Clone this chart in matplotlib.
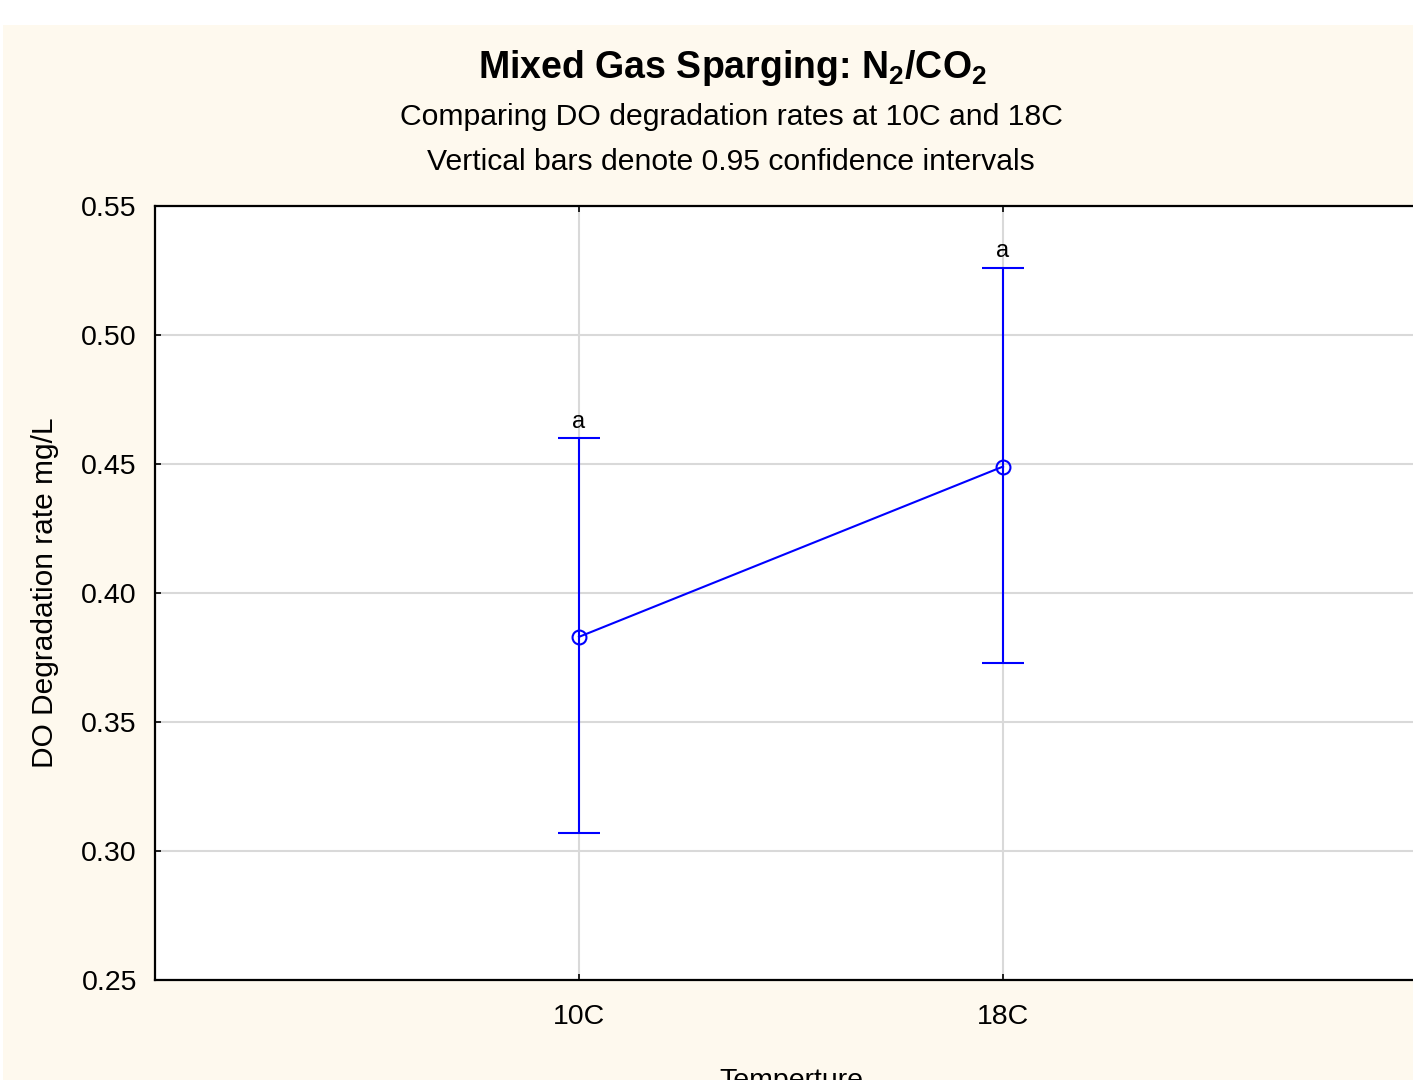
import matplotlib
matplotlib.use("Agg")
import matplotlib.pyplot as plt
from matplotlib.patches import Rectangle

plt.rcParams['font.family'] = ['Liberation Sans', 'DejaVu Sans']
plt.rcParams['mathtext.default'] = 'regular'

categories = ["10C", "18C"]
means = [0.383, 0.449]
upper = [0.460, 0.526]
lower = [0.307, 0.373]
letters = ["a", "a"]
yticks = [0.25, 0.30, 0.35, 0.40, 0.45, 0.50, 0.55]

W, H = 1413, 1080
fig = plt.figure(figsize=(W / 100, H / 100), dpi=100, facecolor="white")
cream = "#fef9ee"
fig.patches.append(Rectangle((3 / W, 0), 1, 1 - 25 / H, transform=fig.transFigure,
                             facecolor=cream, edgecolor="none", zorder=-10))

ax_left, ax_right = 155, 1427
ax_top, ax_bot = 206, 980
ax = fig.add_axes([ax_left / W, 1 - ax_bot / H, (ax_right - ax_left) / W, (ax_bot - ax_top) / H])
ax.set_facecolor("white")

x = [1, 2]
yerr = [[m - l for m, l in zip(means, lower)], [u - m for m, u in zip(means, upper)]]
ax.errorbar(x, means, yerr=yerr, color="#0000ff", lw=1.5, elinewidth=1.5, capsize=15,
            capthick=1.5, marker="o", markersize=10, markerfacecolor="none",
            markeredgewidth=1.5, zorder=3)
for xi, u, t in zip(x, upper, letters):
    ax.annotate(t, (xi, u), xytext=(0, 4), textcoords="offset points", ha="center",
                va="bottom", fontsize=17, color="black", family="Liberation Sans")

ax.set_xlim(0, 3)
ax.set_ylim(0.25, 0.55)
ax.set_xticks(x)
ax.set_xticklabels(categories)
ax.set_yticks(yticks)
ax.set_yticklabels([f"{v:.2f}" for v in yticks])
ax.grid(True, color="#d9d9d9", lw=1.5)
ax.set_axisbelow(True)
for s in ax.spines.values():
    s.set_linewidth(1.6)
    s.set_color("black")
ax.tick_params(axis="both", labelsize=20.5, direction="in", length=4, width=1.2, top=True)
ax.tick_params(axis="x", pad=17)
ax.tick_params(axis="y", pad=13)

ax.set_ylabel("DO Degradation rate mg/L", fontsize=21.5, labelpad=16)
ax.set_xlabel("Temperture", fontsize=20.5, labelpad=28)

fig.text(733 / W, 1 - 68 / H, r"Mixed Gas Sparging: N$_2$/CO$_2$", ha="center", va="center",
         fontsize=27, fontweight="bold")
fig.text(731 / W, 1 - 117 / H, "Comparing DO degradation rates at 10C and 18C", ha="center",
         va="center", fontsize=21.7)
fig.text(731 / W, 1 - 162 / H, "Vertical bars denote 0.95 confidence intervals", ha="center",
         va="center", fontsize=21.7)

fig.savefig("out.png", dpi=100, facecolor=fig.get_facecolor())
